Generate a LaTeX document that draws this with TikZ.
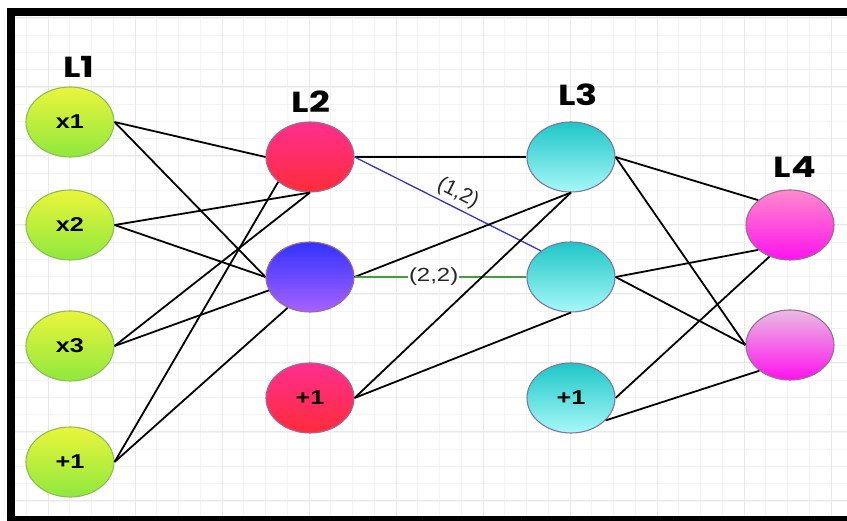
\documentclass[tikz,border=0pt]{standalone}
\usepackage{graphicx}
\usepackage{fontspec}
\setmainfont{Liberation Sans}
\newfontfamily\layerfont{Poppins}
\usetikzlibrary{shapes.geometric}
\definecolor{gridmajor}{HTML}{E9E9E9}
\definecolor{gridminor}{HTML}{F4F4F4}
\definecolor{inTop}{HTML}{EAF53C}
\definecolor{inBot}{HTML}{8FE83E}
\definecolor{inLine}{HTML}{8CBF52}
\definecolor{redTop}{HTML}{FF2E8E}
\definecolor{redBot}{HTML}{FF2C3A}
\definecolor{blueTop}{HTML}{3232FF}
\definecolor{blueBot}{HTML}{A862FF}
\definecolor{hidLine}{HTML}{9A6C96}
\definecolor{cyanTop}{HTML}{1EC6C8}
\definecolor{cyanBot}{HTML}{A8F8F8}
\definecolor{cyanLine}{HTML}{7A7AA0}
\definecolor{pinkTop}{HTML}{FF8ACC}
\definecolor{lilaTop}{HTML}{E8BCE2}
\definecolor{pinkBot}{HTML}{FF12EE}
\definecolor{wBlue}{HTML}{3434C4}
\definecolor{wGreen}{HTML}{449C3C}
\newcommand{\wide}[1]{\scalebox{1.26}[1]{#1}}

\begin{document}
\begin{tikzpicture}[x=1pt,y=-1pt,
	neuron/.style={ellipse,minimum width=88pt,minimum height=70pt,inner sep=0pt,line width=1.1pt,
		font=\bfseries\fontsize{20}{22}\selectfont},
	inneuron/.style={neuron,draw=inLine,top color=inTop,bottom color=inBot},
	redneuron/.style={neuron,draw=hidLine,top color=redTop,bottom color=redBot},
	blueneuron/.style={neuron,draw=hidLine,top color=blueTop,bottom color=blueBot},
	cyanneuron/.style={neuron,draw=cyanLine,top color=cyanTop,bottom color=cyanBot},
	outneuron/.style={neuron,draw=hidLine,bottom color=pinkBot},
	layerlabel/.style={font=\layerfont\bfseries\fontsize{29}{32}\selectfont,inner sep=0pt},
	wlabel/.style={font=\fontsize{19}{21}\selectfont,text=black!85,inner sep=1pt},
	link/.style={line width=1.8pt,black}]
	\useasboundingbox (0,0) rectangle (847,521);
	\fill[white] (0,0) rectangle (847,521);

	% grid
	\foreach \i in {-2,...,36}
		\draw[gridminor,line width=0.8pt] ({48+21.75*\i},16) -- ({48+21.75*\i},516);
	\foreach \j in {0,...,29}
		\draw[gridminor,line width=0.8pt] (15,{18+17.25*\j}) -- (847,{18+17.25*\j});
	\foreach \i in {0,...,9}
		\draw[gridmajor,line width=1pt] ({48+87*\i},16) -- ({48+87*\i},516);
	\foreach \j in {0,...,7}
		\draw[gridmajor,line width=1pt] (15,{18+69*\j}) -- (847,{18+69*\j});

	% frame
	\fill[black] (7,8) rectangle (847,16);
	\fill[black] (7,8) rectangle (15,521);
	\fill[black] (7,516) rectangle (847,521);

	% layer 1
	\node[inneuron] (x1) at (70,122) {\wide{x1}};
	\node[inneuron] (x2) at (70,225) {\wide{x2}};
	\node[inneuron] (x3) at (70,346) {\wide{x3}};
	\node[inneuron] (b1) at (70,462) {\wide{+1}};
	% layer 2
	\node[redneuron] (a1) at (310,157) {};
	\node[blueneuron] (a2) at (310,277) {};
	\node[redneuron] (b2) at (310,398) {\wide{+1}};
	% layer 3
	\node[cyanneuron] (h1) at (571,157) {};
	\node[cyanneuron] (h2) at (571,277) {};
	\node[cyanneuron] (b3) at (571,398) {\wide{+1}};
	% layer 4
	\node[outneuron,top color=pinkTop] (o1) at (790,225) {};
	\node[outneuron,top color=lilaTop] (o2) at (790,345) {};

	\node[layerlabel] (lab1) at (79,67) {\wide{L1}};
	\node[layerlabel] (lab2) at (311,102) {\wide{L2}};
	\node[layerlabel] (lab3) at (578,95) {\wide{L3}};
	\node[layerlabel] (lab4) at (795,167) {\wide{L4}};

	% L1 -> L2
	\draw[link] (x1.east) -- (a1.west);
	\draw[link] (x1.east) -- (a2.west);
	\draw[link] (x2.east) -- (a1.south);
	\draw[link] (x2.east) -- (a2.west);
	\draw[link] (x3.east) -- (a1.south);
	\draw[link] (x3.east) -- (a2.198);
	\draw[link] (b1.east) -- (a1.218);
	\draw[link] (b1.east) -- (a2.234);
	% L2 -> L3
	\draw[link] (a1.east) -- (h1.west);
	\draw[wBlue,line width=1.3pt] (a1.east) -- node[wlabel,font=\fontsize{21}{23}\selectfont,sloped,above=3pt,pos=0.52] {(1,2)} (h2.139);
	\draw[link] (a2.east) -- (h1.south);
	\draw[wGreen,line width=1.3pt] (a2.east) -- node[wlabel,fill=white,pos=0.46] {\wide{(2,2)}} (h2.west);
	\draw[link] (b2.east) -- (h1.south);
	\draw[link] (b2.east) -- (h2.south);
	% L3 -> L4
	\draw[link] (h1.east) -- (o1.142);
	\draw[link] (h1.east) -- (o2.west);
	\draw[link] (h2.east) -- (o1.218);
	\draw[link] (h2.east) -- (o2.west);
	\draw[link] (b3.east) -- (o1.237);
	\draw[link] (b3.327) -- (o2.220);
\end{tikzpicture}
\end{document}
